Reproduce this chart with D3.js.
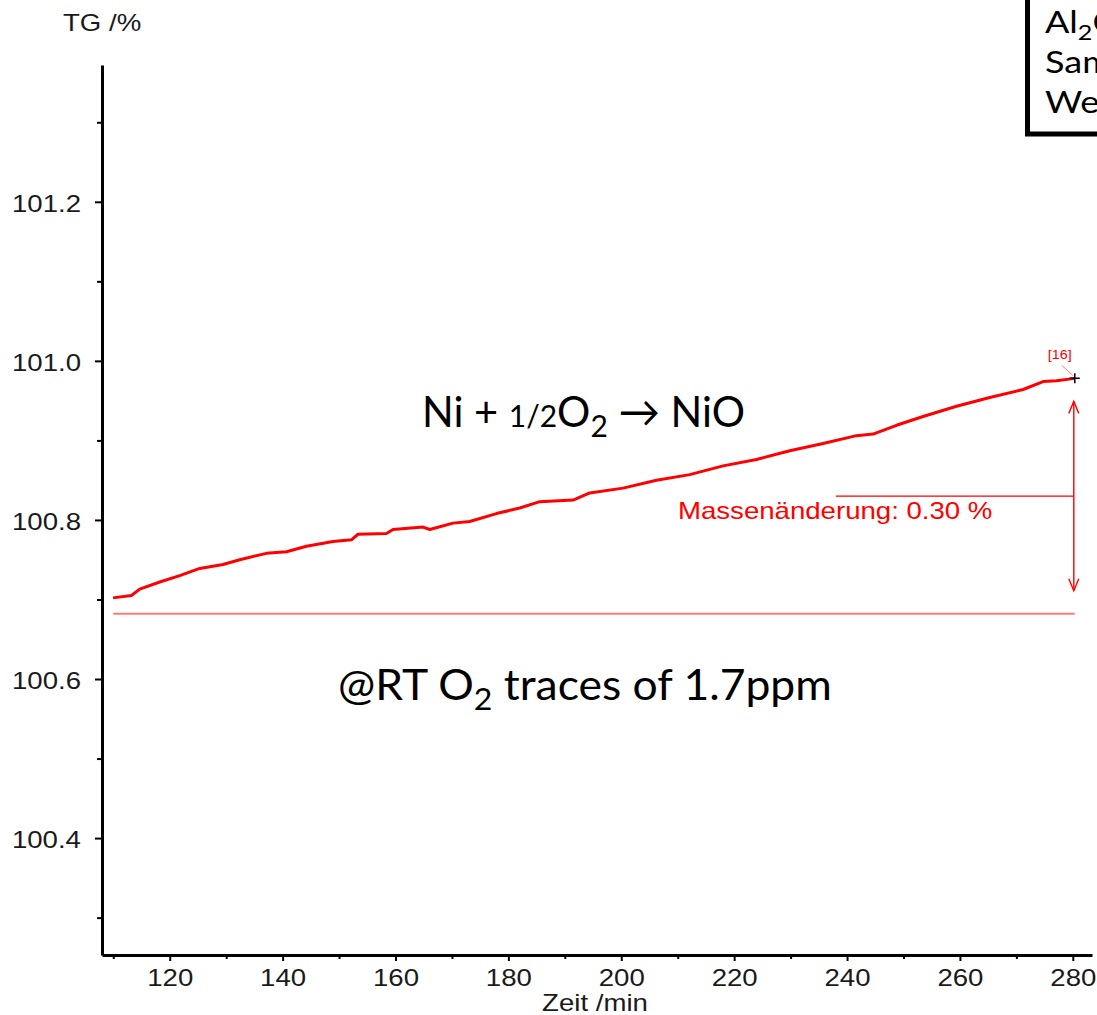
<!DOCTYPE html>
<html>
<head>
<meta charset="utf-8">
<script src="https://cdn.jsdelivr.net/npm/d3@7/dist/d3.min.js"></script>
<style>
  html, body { margin: 0; padding: 0; background: #fff; }
  svg { display: block; }
  .arial { font-family: "Liberation Sans", Arial, sans-serif; }
  .calibri { font-family: Lato, "DejaVu Sans", sans-serif; }
</style>
</head>
<body>
<svg id="chart" width="1097" height="1015"></svg>
<script>
// TG curve: time in minutes, mass in percent
const timeMin = [109.95, 113.21, 114.68, 118.23, 121.77, 125.32, 129.44, 132.40, 137.13, 140.68,
  144.22, 148.93, 152.19, 153.36, 158.39, 159.56, 164.88, 166.07, 170.20, 173.15,
  177.88, 182.01, 185.56, 191.46, 194.42, 200.32, 206.24, 212.13, 218.04, 223.95,
  229.85, 235.75, 241.67, 244.61, 248.76, 253.47, 259.39, 265.29, 271.19, 274.74,
  277.11, 280.35];
const tgPercent = [100.702, 100.705, 100.713, 100.722, 100.730, 100.739, 100.744, 100.750, 100.758, 100.760,
  100.767, 100.773, 100.775, 100.782, 100.783, 100.788, 100.791, 100.788, 100.796, 100.798,
  100.808, 100.815, 100.823, 100.825, 100.834, 100.840, 100.850, 100.857, 100.868, 100.876,
  100.887, 100.896, 100.906, 100.908, 100.919, 100.930, 100.943, 100.954, 100.964, 100.974,
  100.975, 100.978];

// axis ticks
const xMajorTicks = [120, 140, 160, 180, 200, 220, 240, 260, 280];
const xMinorTicks = [110, 130, 150, 170, 190, 210, 230, 250, 270];
const yMajorTicks = [100.4, 100.6, 100.8, 101.0, 101.2];
const yMinorTicks = [100.3, 100.5, 100.7, 100.9, 101.1, 101.3];

// mass-change evaluation
const baselineTG = 100.682;
const baselineStart = 110;
const markerIndex = timeMin.length - 1;
const markerLabel = "[16]";
const changeLineStart = 238;

// text
const yAxisTitle = "TG /%";
const xAxisTitle = "Zeit /min";
const reactionParts = ["Ni + ", "1/2", "O", "2", " \u2192 NiO"];
const traceParts = ["@RT O", "2", " traces of 1.7ppm"];
const infoLines = [["Al", "2", "O", "3"], ["Sample"], ["Weight"]];

const svg = d3.select("#chart");
const x = d3.scaleLinear().domain([108, 283.4]).range([102, 1092]);
const y = d3.scaleLinear().domain([100.253, 101.372]).range([955, 65]);

const RED = "#ff0000";

// widen text horizontally around its anchor point
function widen(sel, k) {
  sel.each(function () {
    const b = this.getBBox();
    const a = getComputedStyle(this).textAnchor;
    const ax = a === "end" ? b.x + b.width : a === "middle" ? b.x + b.width / 2 : b.x;
    d3.select(this).attr("transform", `translate(${ax},0) scale(${k},1) translate(${-ax},0)`);
  });
}
function fitWidth(sel, w) {
  sel.each(function () {
    const b = this.getBBox();
    const k = w / b.width;
    d3.select(this).attr("transform", `translate(${b.x},0) scale(${k},1) translate(${-b.x},0)`);
  });
}

// ---- axes ----
const y0 = y.range()[0];
const x0 = x.range()[0];

const gxMinor = svg.append("g").attr("transform", `translate(0,${y0})`)
  .call(d3.axisBottom(x).tickValues(xMinorTicks).tickSize(4).tickFormat(""));
gxMinor.select(".domain").remove();
gxMinor.selectAll("line").attr("stroke", "#000").attr("stroke-width", 2);

const gx = svg.append("g").attr("transform", `translate(0,${y0})`)
  .call(d3.axisBottom(x).tickValues(xMajorTicks).tickSize(6).tickSizeOuter(0).tickPadding(9));
gx.select(".domain").attr("stroke", "#000").attr("stroke-width", 3);
gx.selectAll(".tick line").attr("stroke", "#000").attr("stroke-width", 2);
gx.selectAll(".tick text").attr("class", "arial").attr("font-size", 23).attr("fill", "#1a1a1a");

const gyMinor = svg.append("g").attr("transform", `translate(${x0},0)`)
  .call(d3.axisLeft(y).tickValues(yMinorTicks).tickSize(5).tickFormat(""));
gyMinor.select(".domain").remove();
gyMinor.selectAll("line").attr("stroke", "#000").attr("stroke-width", 2);

const gy = svg.append("g").attr("transform", `translate(${x0},0)`)
  .call(d3.axisLeft(y).tickValues(yMajorTicks).tickSize(7).tickSizeOuter(0).tickPadding(14)
    .tickFormat(d3.format(".1f")));
gy.select(".domain").attr("stroke", "#000").attr("stroke-width", 3);
gy.selectAll(".tick line").attr("stroke", "#000").attr("stroke-width", 2);
gy.selectAll(".tick text").attr("class", "arial").attr("font-size", 23).attr("fill", "#1a1a1a")
  .attr("dy", "0.42em");

widen(gx.selectAll(".tick text"), 1.2);
widen(gy.selectAll(".tick text"), 1.2);

const yTitle = svg.append("text").attr("class", "arial").attr("x", 63).attr("y", 31)
  .attr("font-size", 23).attr("fill", "#1a1a1a").text(yAxisTitle);
widen(yTitle, 1.2);

const xTitle = svg.append("text").attr("class", "arial").attr("x", 595).attr("y", 1011)
  .attr("text-anchor", "middle").attr("font-size", 23).attr("fill", "#1a1a1a").text(xAxisTitle);
widen(xTitle, 1.2);

// ---- baseline of the evaluation ----
const lastT = timeMin[markerIndex], lastV = tgPercent[markerIndex];
svg.append("line")
  .attr("x1", x(baselineStart)).attr("x2", x(lastT))
  .attr("y1", y(baselineTG)).attr("y2", y(baselineTG))
  .attr("stroke", "#ff7a7a").attr("stroke-width", 2);

// ---- TG curve ----
const pts = timeMin.map((t, i) => [t, tgPercent[i]]);
svg.append("path").datum(pts)
  .attr("fill", "none").attr("stroke", RED).attr("stroke-width", 3)
  .attr("stroke-linejoin", "round")
  .attr("d", d3.line().x(d => x(d[0])).y(d => y(d[1])));

// ---- mass change arrow ----
const ax = x(lastT) - 1;
const yTop = y(lastV), yBot = y(baselineTG);
const inset = 23;
const arrowTop = yTop + inset, arrowBot = yBot - inset;
const g = svg.append("g").attr("stroke", RED).attr("stroke-width", 1.4).attr("fill", "none");
g.append("line").attr("x1", ax).attr("x2", ax).attr("y1", arrowTop).attr("y2", arrowBot);
g.append("path").attr("d", `M${ax - 5},${arrowTop + 12}L${ax},${arrowTop}L${ax + 5},${arrowTop + 12}`);
g.append("path").attr("d", `M${ax - 5},${arrowBot - 12}L${ax},${arrowBot}L${ax + 5},${arrowBot - 12}`);
const midY = (yTop + yBot) / 2;
g.append("line").attr("x1", x(changeLineStart)).attr("x2", ax).attr("y1", midY).attr("y2", midY);

const change = lastV - baselineTG;
const changeText = svg.append("text").attr("class", "arial")
  .attr("x", 678).attr("y", midY + 23)
  .attr("font-size", 23).attr("fill", RED)
  .text(`Massenänderung: ${d3.format(".2f")(change)} %`);
widen(changeText, 1.2);

// ---- end marker ----
const mx = x(lastT), my = y(lastV);
svg.append("line").attr("x1", mx - 13).attr("y1", my - 13).attr("x2", mx - 2).attr("y2", my - 3)
  .attr("stroke", "#ff8080").attr("stroke-width", 1);
svg.append("path").attr("d", `M${mx - 5},${my}H${mx + 5}M${mx},${my - 5}V${my + 5}`)
  .attr("stroke", "#000").attr("stroke-width", 1.5);
const ml = svg.append("text").attr("class", "arial").attr("x", mx - 15).attr("y", my - 19)
  .attr("text-anchor", "middle").attr("font-size", 12).attr("fill", RED).text(markerLabel);
widen(ml, 1.2);

// ---- reaction and condition text ----
const reaction = svg.append("text").attr("class", "calibri")
  .attr("x", 422).attr("y", 427).attr("font-size", 43).attr("fill", "#000");
reaction.append("tspan").text(reactionParts[0]);
reaction.append("tspan").attr("font-size", 31).text(reactionParts[1]);
reaction.append("tspan").text(reactionParts[2]);
reaction.append("tspan").attr("font-size", 31).attr("dy", 10).text(reactionParts[3]);
reaction.append("tspan").attr("dy", -10).text(reactionParts[4]);
fitWidth(reaction, 323);

const trace = svg.append("text").attr("class", "calibri")
  .attr("x", 338).attr("y", 700).attr("font-size", 43).attr("fill", "#000");
trace.append("tspan").text(traceParts[0]);
trace.append("tspan").attr("font-size", 31).attr("dy", 10).text(traceParts[1]);
trace.append("tspan").attr("dy", -10).text(traceParts[2]);
fitWidth(trace, 494);

// ---- info box ----
svg.append("rect").attr("x", 1027.5).attr("y", -10).attr("width", 200).attr("height", 144)
  .attr("fill", "#fff").attr("stroke", "#000").attr("stroke-width", 5);
infoLines.forEach((parts, i) => {
  const t = svg.append("text").attr("class", "calibri")
    .attr("x", 1045).attr("y", 33 + i * 40).attr("font-size", 30).attr("fill", "#000");
  parts.forEach((p, j) => {
    const sub = j % 2 === 1;
    t.append("tspan").attr("font-size", sub ? 21 : 30).attr("dy", sub ? 7 : (j > 0 ? -7 : 0)).text(p);
  });
  widen(t, 1.2);
});
</script>
</body>
</html>
